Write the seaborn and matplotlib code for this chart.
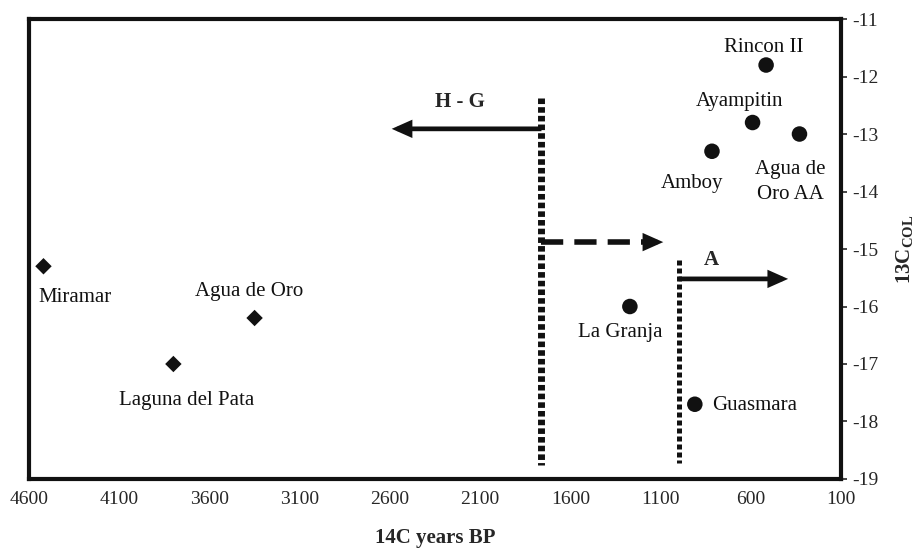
import pandas as pd
import matplotlib.pyplot as plt
import seaborn as sns

# Sites, radiocarbon ages and d13C collagen values
sites = ["Miramar", "Laguna del Pata", "Agua de Oro", "La Granja", "Guasmara",
         "Amboy", "Ayampitin", "Rincon II", "Agua de\nOro AA"]
years_bp = [4520, 3800, 3350, 1270, 910, 815, 590, 515, 330]
d13c = [-15.3, -17.0, -16.2, -16.0, -17.7, -13.3, -12.8, -11.8, -13.0]
group = ["HG", "HG", "HG", "A", "A", "A", "A", "A", "A"]

# boundaries and arrows
hg_boundary = 1760
a_boundary = 1000
hg_arrow_end = 2590
trans_arrow_end = 1085
a_arrow_end = 393

x_ticks = [4600, 4100, 3600, 3100, 2600, 2100, 1600, 1100, 600, 100]
y_ticks = [-19, -18, -17, -16, -15, -14, -13, -12, -11]

data = pd.DataFrame({"site": sites, "year": years_bp, "d13c": d13c, "group": group})

sns.set_style("white")
plt.rcParams["font.family"] = ["Liberation Serif", "DejaVu Serif"]
plt.rcParams["mathtext.fontset"] = "custom"
plt.rcParams["mathtext.rm"] = "Liberation Serif"
plt.rcParams["mathtext.bf"] = "Liberation Serif:bold"

fig = plt.figure(figsize=(9.19, 5.58), dpi=100)
ax = fig.add_axes([0.0316, 0.1416, 0.9151 - 0.0316, 0.9659 - 0.1416])

sns.scatterplot(data=data, x="year", y="d13c", style="group", size="group",
                markers={"HG": "D", "A": "o"}, sizes={"HG": 70, "A": 125},
                color="#111111", edgecolor="none", legend=False, ax=ax, zorder=5)

ax.set_xlim(4600, 100)
ax.set_ylim(-19, -11)
ax.set_xticks(x_ticks)
ax.set_yticks(y_ticks)
ax.tick_params(axis="x", length=0, pad=9, labelsize=14)
ax.yaxis.tick_right()
ax.yaxis.set_label_position("right")
ax.tick_params(axis="y", which="both", right=True, left=False, length=4, width=1.2,
               direction="out", pad=4, labelsize=14)
ax.set_yticklabels([str(v) for v in y_ticks])
for s in ax.spines.values():
    s.set_linewidth(3)
    s.set_color("#111111")

ax.set_xlabel("14C years BP", fontsize=15, fontweight="bold", labelpad=14)
ax.set_ylabel(r"$\mathbf{13C_{COL}}$", fontsize=15, labelpad=11, rotation=90)

# label offsets in pixels (dx, dy, ha)
offsets = {
    "Miramar": (-5, -31, "left"),
    "Laguna del Pata": (13, -37, "center"),
    "Agua de Oro": (-5, 27, "center"),
    "La Granja": (-10, -26, "center"),
    "Guasmara": (17, -1, "left"),
    "Amboy": (-20, -32, "center"),
    "Ayampitin": (-13, 21, "center"),
    "Rincon II": (-2, 18, "center"),
    "Agua de\nOro AA": (-9, -48, "center"),
}
for name, x, y in zip(sites, years_bp, d13c):
    dx, dy, ha = offsets[name]
    ax.annotate(name, (x, y), xytext=(dx, dy), textcoords="offset pixels",
                ha=ha, va="center", fontsize=15, linespacing=1.45, color="#111111")

# period boundaries
ax.plot([hg_boundary, hg_boundary], [-12.37, -18.76], color="#111111", lw=5,
        ls=(0, (0.8, 0.45)), solid_capstyle="butt", dash_capstyle="butt")
ax.plot([a_boundary, a_boundary], [-15.19, -18.72], color="#111111", lw=3.6,
        ls=(0, (1.0, 0.6)), dash_capstyle="butt")

arrow = dict(arrowstyle="-|>,head_length=0.45,head_width=0.2", color="#111111",
             lw=3.4, shrinkA=0, shrinkB=0, mutation_scale=20, joinstyle="miter",
             capstyle="butt")
ax.annotate("", xy=(hg_arrow_end, -12.91), xytext=(hg_boundary, -12.91), arrowprops=arrow)
ax.annotate("", xy=(a_arrow_end, -15.52), xytext=(a_boundary, -15.52), arrowprops=arrow)

# dashed transition arrow
ax.plot([hg_boundary, trans_arrow_end + 70], [-14.88, -14.88], color="#111111", lw=4,
        ls=(0, (4, 2)), dash_capstyle="butt")
ax.annotate("", xy=(trans_arrow_end, -14.88), xytext=(trans_arrow_end + 80, -14.88),
            arrowprops=arrow)

ax.text(2210, -12.44, "H - G", fontsize=15, fontweight="bold", ha="center", va="center")
ax.text(820, -15.19, "A", fontsize=15, fontweight="bold", ha="center", va="center")

fig.savefig("out.png", dpi=100)
